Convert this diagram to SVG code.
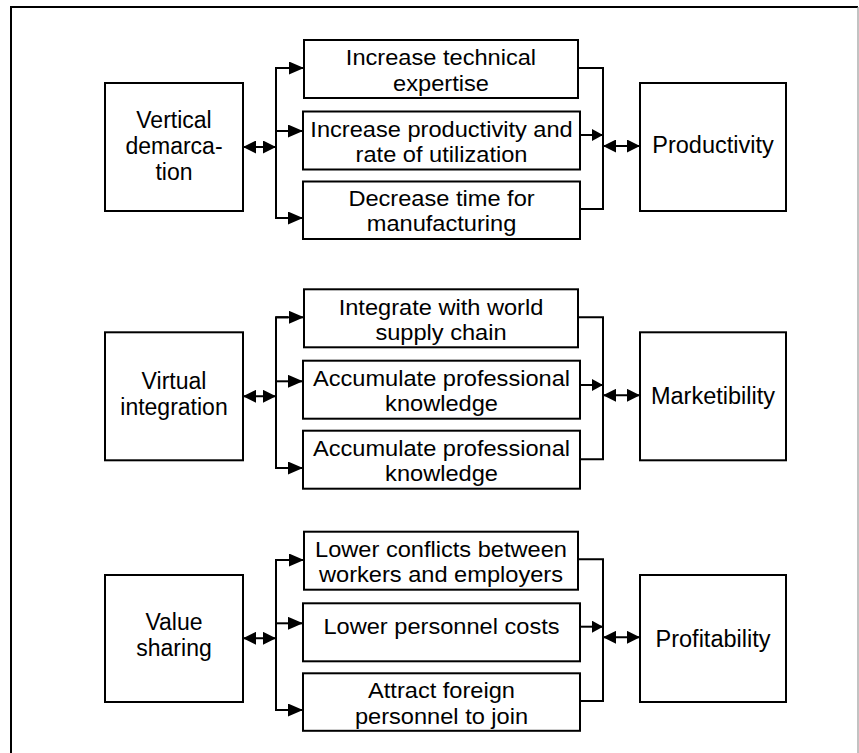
<svg xmlns="http://www.w3.org/2000/svg" width="859" height="753" viewBox="0 0 859 753">
<defs>
<style>
.box{fill:#fff;stroke:#000;stroke-width:2}
.ln{fill:none;stroke:#000;stroke-width:2}
.t{font-family:"Liberation Sans",Arial,sans-serif;font-size:23px;fill:#000;text-anchor:middle}
.r{font-size:23.5px}
.m{font-family:"Liberation Sans",Arial,sans-serif;font-size:22.5px;fill:#000;text-anchor:middle}
</style>
<marker id="a1" viewBox="0 0 15 13" refX="15" refY="6.5" markerWidth="15" markerHeight="13" markerUnits="userSpaceOnUse" orient="auto-start-reverse"><path d="M0,0 L15,6.5 L0,13 Z" fill="#000"/></marker>
<marker id="a2" viewBox="0 0 13 13" refX="13" refY="6.5" markerWidth="13" markerHeight="13" markerUnits="userSpaceOnUse" orient="auto-start-reverse"><path d="M0,0 L13,6.5 L0,13 Z" fill="#000"/></marker>
<marker id="a3" viewBox="0 0 11 12" refX="11" refY="6" markerWidth="11" markerHeight="12" markerUnits="userSpaceOnUse" orient="auto-start-reverse"><path d="M0,0 L11,6 L0,12 Z" fill="#000"/></marker>
</defs>
<rect width="859" height="753" fill="#fff"/>
<g id="frame">
<path d="M11,753 V7 H858" class="ln"/>
<path d="M858,7 V753" fill="none" stroke="#999" stroke-width="1.2"/>
</g>
<g id="connectors">
<path class="ln" d="M288,68 H276 V218 H288"/>
<path class="ln" d="M276,68 H304" marker-end="url(#a1)"/>
<path class="ln" d="M276,131 H303" marker-end="url(#a1)"/>
<path class="ln" d="M276,218 H303" marker-end="url(#a1)"/>
<path class="ln" d="M243,147 H276" marker-start="url(#a2)" marker-end="url(#a2)"/>
<path class="ln" d="M578,68 H603 V209 H580"/>
<path class="ln" d="M580,135 H603" marker-end="url(#a3)"/>
<path class="ln" d="M603,146 H640" marker-start="url(#a2)" marker-end="url(#a2)"/>
<path class="ln" d="M288,317.3 H276 V468 H288"/>
<path class="ln" d="M276,317.3 H304" marker-end="url(#a1)"/>
<path class="ln" d="M276,381.3 H303" marker-end="url(#a1)"/>
<path class="ln" d="M276,468 H303" marker-end="url(#a1)"/>
<path class="ln" d="M243,396.3 H276" marker-start="url(#a2)" marker-end="url(#a2)"/>
<path class="ln" d="M578,317.3 H603 V459.3 H580"/>
<path class="ln" d="M580,385 H603" marker-end="url(#a3)"/>
<path class="ln" d="M603,395.3 H640" marker-start="url(#a2)" marker-end="url(#a2)"/>
<path class="ln" d="M288,560 H276 V710 H288"/>
<path class="ln" d="M276,560 H304" marker-end="url(#a1)"/>
<path class="ln" d="M276,623.3 H303" marker-end="url(#a1)"/>
<path class="ln" d="M276,710 H303" marker-end="url(#a1)"/>
<path class="ln" d="M243,638.3 H276" marker-start="url(#a2)" marker-end="url(#a2)"/>
<path class="ln" d="M578,559.3 H603 V701 H580"/>
<path class="ln" d="M580,626.7 H603" marker-end="url(#a3)"/>
<path class="ln" d="M603,637.3 H640" marker-start="url(#a2)" marker-end="url(#a2)"/>
</g>
<g id="vertical-demarcation"><rect class="box" x="105" y="83" width="138" height="128"/>
<text class="t"><tspan x="174" y="128">Vertical</tspan><tspan x="174" y="154">demarca-</tspan><tspan x="174" y="180">tion</tspan></text></g>
<g id="increase-technical-expertise"><rect class="box" x="304" y="40" width="274" height="58"/>
<text class="m" transform="scale(1.05,1)"><tspan x="420" y="65.5">Increase technical</tspan><tspan x="420" y="90.7">expertise</tspan></text></g>
<g id="increase-productivity"><rect class="box" x="303" y="111.5" width="277" height="58"/>
<text class="m" transform="scale(1.05,1)"><tspan x="420.5" y="137">Increase productivity and</tspan><tspan x="420.5" y="162.2">rate of utilization</tspan></text></g>
<g id="decrease-time"><rect class="box" x="303" y="181.5" width="277" height="57.5"/>
<text class="m" transform="scale(1.05,1)"><tspan x="420.5" y="206">Decrease time for</tspan><tspan x="420.5" y="231.2">manufacturing</tspan></text></g>
<g id="productivity"><rect class="box" x="640" y="83" width="146" height="128"/>
<text class="t r" x="713" y="153">Productivity</text></g>
<g id="virtual-integration"><rect class="box" x="105" y="332.3" width="138" height="128"/>
<text class="t"><tspan x="174" y="388.5">Virtual</tspan><tspan x="174" y="414.5">integration</tspan></text></g>
<g id="integrate-supply-chain"><rect class="box" x="304" y="289.3" width="274" height="58"/>
<text class="m" transform="scale(1.05,1)"><tspan x="420" y="314.8">Integrate with world</tspan><tspan x="420" y="340">supply chain</tspan></text></g>
<g id="accumulate-knowledge-1"><rect class="box" x="303" y="360.7" width="277" height="58"/>
<text class="m" transform="scale(1.05,1)"><tspan x="420.5" y="386.2">Accumulate professional</tspan><tspan x="420.5" y="411.4">knowledge</tspan></text></g>
<g id="accumulate-knowledge-2"><rect class="box" x="303" y="430.7" width="277" height="58"/>
<text class="m" transform="scale(1.05,1)"><tspan x="420.5" y="456.2">Accumulate professional</tspan><tspan x="420.5" y="481.4">knowledge</tspan></text></g>
<g id="marketibility"><rect class="box" x="640" y="332.3" width="146" height="128"/>
<text class="t r" x="713" y="404">Marketibility</text></g>
<g id="value-sharing"><rect class="box" x="105" y="575" width="138" height="127"/>
<text class="t"><tspan x="174" y="630">Value</tspan><tspan x="174" y="656">sharing</tspan></text></g>
<g id="lower-conflicts"><rect class="box" x="304" y="531.7" width="274" height="58"/>
<text class="m" transform="scale(1.05,1)"><tspan x="420" y="557.2">Lower conflicts between</tspan><tspan x="420" y="582.4">workers and employers</tspan></text></g>
<g id="lower-personnel-costs"><rect class="box" x="303" y="603.3" width="277" height="58"/>
<text class="m" transform="scale(1.05,1)" x="420.5" y="634">Lower personnel costs</text></g>
<g id="attract-foreign"><rect class="box" x="303" y="673.3" width="277" height="57.5"/>
<text class="m" transform="scale(1.05,1)"><tspan x="420.5" y="698.5">Attract foreign</tspan><tspan x="420.5" y="723.7">personnel to join</tspan></text></g>
<g id="profitability"><rect class="box" x="640" y="575" width="146" height="127"/>
<text class="t r" x="713" y="646.5">Profitability</text></g>
</svg>
